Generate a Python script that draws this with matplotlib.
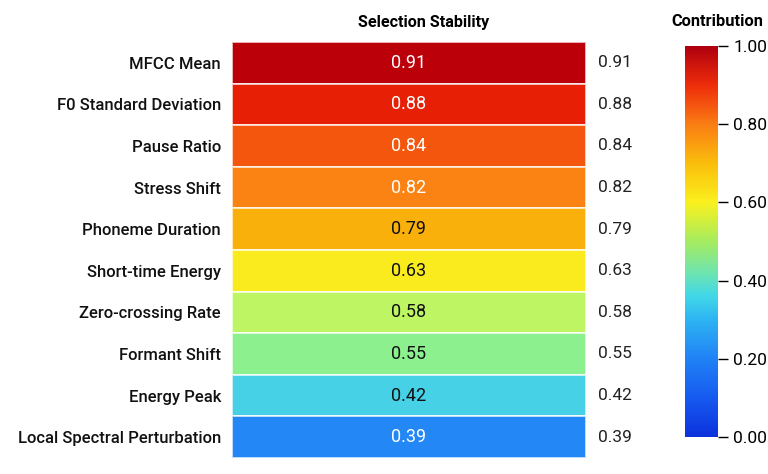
import numpy as np
import matplotlib
matplotlib.use("Agg")
import matplotlib.pyplot as plt
from matplotlib.colors import LinearSegmentedColormap
import matplotlib.cm as cm

plt.rcParams['font.family'] = ['Roboto', 'DejaVu Sans']

features = ["MFCC Mean", "F0 Standard Deviation", "Pause Ratio", "Stress Shift",
            "Phoneme Duration", "Short-time Energy", "Zero-crossing Rate",
            "Formant Shift", "Energy Peak", "Local Spectral Perturbation"]
stability = [0.91, 0.88, 0.84, 0.82, 0.79, 0.63, 0.58, 0.55, 0.42, 0.39]
column_title = "Selection Stability"
cbar_title = "Contribution"
cbar_ticks = [0.0, 0.2, 0.4, 0.6, 0.8, 1.0]

cell_nodes = [
    (0.00, (15, 60, 220)),
    (0.20, (30, 120, 240)),
    (0.39, (35, 135, 245)),
    (0.42, (70, 210, 230)),
    (0.55, (140, 240, 140)),
    (0.58, (190, 245, 100)),
    (0.63, (250, 235, 30)),
    (0.79, (250, 180, 10)),
    (0.82, (250, 130, 20)),
    (0.84, (245, 90, 15)),
    (0.88, (235, 35, 5)),
    (0.91, (188, 0, 10)),
    (1.00, (170, 0, 10)),
]
bar_nodes = [
    (0.00, (12, 50, 220)),
    (0.10, (22, 90, 240)),
    (0.20, (32, 130, 245)),
    (0.30, (45, 180, 242)),
    (0.36, (65, 215, 232)),
    (0.42, (110, 228, 175)),
    (0.50, (165, 236, 95)),
    (0.60, (250, 240, 30)),
    (0.70, (250, 190, 12)),
    (0.80, (250, 125, 20)),
    (0.90, (238, 45, 10)),
    (1.00, (175, 0, 15)),
]

def make_cmap(name, nodes):
    return LinearSegmentedColormap.from_list(
        name, [(p, tuple(c / 255 for c in rgb)) for p, rgb in nodes])

cell_cmap = make_cmap("cells", cell_nodes)
bar_cmap = make_cmap("bar", bar_nodes)

fig = plt.figure(figsize=(7.68, 4.74), dpi=100)
ax = fig.add_axes([232 / 768, 1 - 458 / 474, (586 - 232) / 768, (458 - 42) / 474])

data = np.array(stability).reshape(-1, 1)
mesh = ax.pcolormesh(np.arange(2), np.arange(len(features) + 1), data,
                     cmap=cell_cmap, vmin=0, vmax=1,
                     edgecolor=(1, 1, 1, 0.7), linewidth=1.2)
ax.set_ylim(len(features), 0)
ax.set_xlim(0, 1)
ax.set_yticks(np.arange(len(features)) + 0.5)
ax.set_yticklabels(features, fontsize=12, color='#111111', fontweight='medium')
ax.set_xticks([])
ax.tick_params(axis='y', length=0, pad=8)
for s in ax.spines.values():
    s.set_visible(False)

for i, v in enumerate(stability):
    tc = 'white' if (v >= 0.8 or v < 0.4) else '#111111'
    ax.text(0.5, i + 0.5, f"{v:.2f}", ha='center', va='center', fontsize=13,
            color=tc)
    ax.text(1.035, i + 0.5, f"{v:.2f}", ha='left', va='center', fontsize=12.5,
            color='#222222')

ax.text(0.542, 1.028, column_title, transform=ax.transAxes, ha='center', va='bottom',
        fontsize=11.6, fontweight='bold')

cax = fig.add_axes([685 / 768, 1 - 437 / 474, 33 / 768, (437 - 46) / 474])
sm = cm.ScalarMappable(cmap=bar_cmap, norm=mesh.norm)
cb = fig.colorbar(sm, cax=cax, ticks=cbar_ticks)
cb.outline.set_visible(False)
cb.ax.set_yticklabels([f"{t:.2f}" for t in cbar_ticks], fontsize=12.5)
cb.ax.tick_params(length=7, width=1, pad=4)
fig.text(717 / 768, 1 - 22 / 474, cbar_title, ha='center', va='center',
         fontsize=11.8, fontweight='bold')

fig.savefig("out.png", dpi=100, facecolor='white')
